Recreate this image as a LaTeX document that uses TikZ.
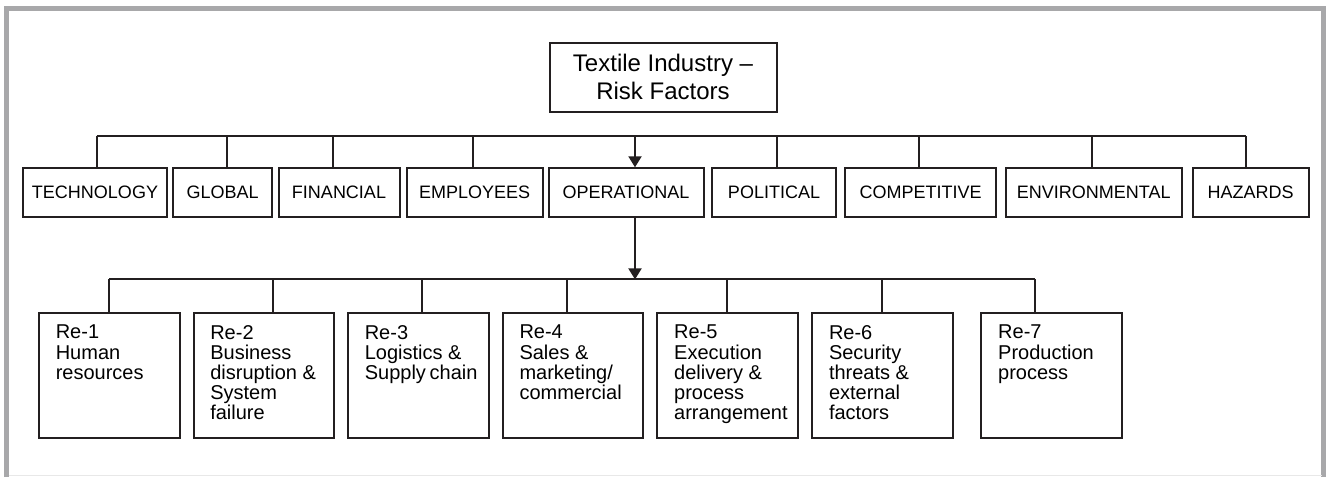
\documentclass[tikz,border=0pt]{standalone}
\usepackage{fontspec}
\setmainfont{Liberation Sans}
\usetikzlibrary{arrows.meta}
\definecolor{framegray}{RGB}{168, 168, 170}
\definecolor{rulegray}{RGB}{232, 232, 232}
\definecolor{ink}{RGB}{35, 31, 32}

% text block of a risk box, set from its top left corner
\newcommand{\risklines}[1]{\parbox[t][50pt][t]{53.5pt}{\raggedright\hyphenpenalty=10000 #1}}

\begin{document}
\begin{tikzpicture}[x=0.5pt, y=-0.5pt,
		link/.style={draw=ink, line width=1pt},
		arr/.style={-{Triangle[length=5.5pt, width=6.5pt]}},
		titlebox/.style={draw=ink, line width=1pt, align=center, inner sep=0pt,
			minimum width=113.5pt, minimum height=34.5pt,
			font=\fontsize{12}{14}\selectfont},
		catbox/.style={draw=ink, line width=1pt, inner sep=0pt,
			minimum height=24.2pt, font=\fontsize{9}{11}\selectfont},
		riskbox/.style={draw=ink, line width=1pt, inner sep=0pt,
			minimum width=70.3pt, minimum height=62.3pt,
			font=\fontsize{10}{10.1}\selectfont}]
	\useasboundingbox (0,0) rectangle (1326,477);

	% outer frame
	\draw[framegray, line width=2.65pt] (6.6,477) -- (6.6,8.6) -- (1324,8.6) -- (1324,477);
	\draw[rulegray, line width=0.5pt] (9,475.5) -- (1322,475.5);

	\node[titlebox] (title) at (663,77) {Textile Industry –\\Risk Factors};

	% risk categories
	\foreach \n/\x/\w/\t in {tech/95/71.8/TECHNOLOGY, glob/222.7/49.5/GLOBAL,
			fin/339/60.5/FINANCIAL, emp/474.7/68.2/EMPLOYEES, oper/626/77.5/OPERATIONAL,
			pol/774/62.2/POLITICAL, comp/920.7/75.5/COMPETITIVE,
			env/1093.7/87.8/ENVIRONMENTAL, haz/1250.7/58.2/HAZARDS}
		\node[catbox, minimum width=\w pt] (\n) at (\x,192.5) {\t};

	\foreach \n/\dx in {tech/1.7, glob/4, fin/-5.7, emp/-2, pol/2.7, comp/-2, env/-1.7, haz/-4.7}
		\draw[link] (\n.north) ++(\dx,0) -- ++(0,-31) coordinate (top-\n);
	\draw[link] (top-tech) -- (top-haz);

	\path (oper.north) ++(9,0) coordinate (oper-in) ++(0,-31) coordinate (top-oper);
	\draw[link, arr] (top-oper) -- (oper-in);

	% operational risks
	\foreach \n/\x/\t in {re1/109.3/{Re-1\\Human\\resources},
			re2/263.8/{Re-2\\Business\\disruption \&\\System\\failure},
			re3/418.3/{Re-3\\Logistics \&\\Supply~chain},
			re4/573/{Re-4\\Sales \&\\marketing/\\commercial},
			re5/727.7/{Re-5\\Execution\\delivery \&\\process\\arrangement},
			re6/882.5/{Re-6\\Security\\threats \&\\external\\factors},
			re7/1051.7/{Re-7\\Production\\process}}
		\node[riskbox] (\n) at (\x,375.2) {\risklines{\t}};

	\foreach \n/\dx in {re1/0, re2/9.5, re3/3.4, re4/-5.7, re5/-1, re6/-0.8, re7/-17}
		\draw[link] (\n.north) ++(\dx,0) -- ++(0,-32.5) coordinate (top-\n);
	\draw[link] (top-re1) -- (top-re7);

	\path (oper.south) ++(9,0) coordinate (oper-out);
	\draw[link, arr] (oper-out) -- (oper-out |- top-re1);
\end{tikzpicture}
\end{document}
